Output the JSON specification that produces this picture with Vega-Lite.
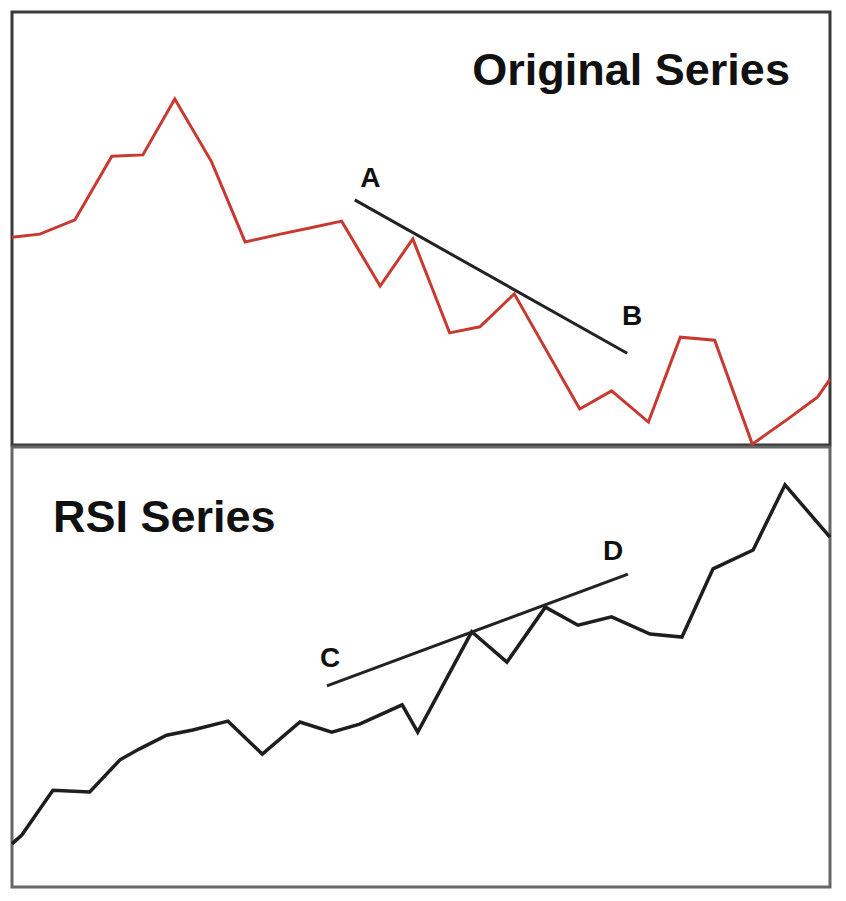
{
  "$schema": "https://vega.github.io/schema/vega-lite/v6.json",
  "background": "white",
  "padding": {"left": 3, "top": 10, "right": 21, "bottom": 12},
  "spacing": 2,
  "bounds": "flush",
  "config": {
    "font": "Liberation Sans",
    "view": {"stroke": "#555", "strokeWidth": 3}
  },
  "datasets": {
    "price": [
      {"t": 0, "price": 48.0},
      {"t": 3.4, "price": 48.7},
      {"t": 7.7, "price": 52.0},
      {"t": 12.2, "price": 66.7},
      {"t": 16.0, "price": 67.0},
      {"t": 19.9, "price": 79.9},
      {"t": 24.4, "price": 65.4},
      {"t": 28.5, "price": 46.9},
      {"t": 32.8, "price": 48.7},
      {"t": 36.4, "price": 50.1},
      {"t": 40.3, "price": 51.7},
      {"t": 45.0, "price": 36.7},
      {"t": 49.0, "price": 47.6},
      {"t": 53.5, "price": 25.9},
      {"t": 57.2, "price": 27.3},
      {"t": 61.4, "price": 34.9},
      {"t": 69.4, "price": 8.3},
      {"t": 73.3, "price": 12.5},
      {"t": 77.8, "price": 5.3},
      {"t": 81.7, "price": 24.9},
      {"t": 85.9, "price": 24.2},
      {"t": 90.5, "price": 0.2},
      {"t": 94.7, "price": 5.8},
      {"t": 98.5, "price": 11.1},
      {"t": 100, "price": 15.2}
    ],
    "priceTrend": [
      {"t": 41.9, "price": 56.6},
      {"t": 75.2, "price": 21.2}
    ],
    "priceLabels": [
      {"t": 43.8, "price": 61.4, "label": "A"},
      {"t": 75.8, "price": 29.6, "label": "B"}
    ],
    "rsi": [
      {"t": 0, "rsi": 9.8},
      {"t": 1.2, "rsi": 11.8},
      {"t": 5.0, "rsi": 22.0},
      {"t": 9.5, "rsi": 21.6},
      {"t": 13.2, "rsi": 28.9},
      {"t": 15.6, "rsi": 31.4},
      {"t": 18.9, "rsi": 34.5},
      {"t": 22.1, "rsi": 35.7},
      {"t": 26.4, "rsi": 37.7},
      {"t": 30.6, "rsi": 30.2},
      {"t": 35.2, "rsi": 37.5},
      {"t": 39.1, "rsi": 35.2},
      {"t": 42.5, "rsi": 37.0},
      {"t": 47.7, "rsi": 41.4},
      {"t": 49.6, "rsi": 35.2},
      {"t": 56.2, "rsi": 58.0},
      {"t": 60.5, "rsi": 51.1},
      {"t": 65.2, "rsi": 63.6},
      {"t": 69.2, "rsi": 59.5},
      {"t": 73.3, "rsi": 61.4},
      {"t": 78.0, "rsi": 57.5},
      {"t": 81.9, "rsi": 56.8},
      {"t": 85.7, "rsi": 72.3},
      {"t": 90.6, "rsi": 76.6},
      {"t": 94.5, "rsi": 91.4},
      {"t": 100, "rsi": 79.5}
    ],
    "rsiTrend": [
      {"t": 38.5, "rsi": 45.7},
      {"t": 75.3, "rsi": 71.1}
    ],
    "rsiLabels": [
      {"t": 38.9, "rsi": 51.8, "label": "C"},
      {"t": 73.5, "rsi": 76.1, "label": "D"}
    ],
    "panelTitles": [
      {"panel": "price", "t": 95.1, "value": 83.1, "title": "Original Series"},
      {"panel": "rsi", "t": 5.0, "value": 80.7, "title": "RSI Series"}
    ]
  },
  "vconcat": [
    {
      "width": 818,
      "height": 433,
      "view": {"stroke": "#3a3a3a", "strokeWidth": 3},
      "layer": [
        {
          "data": {"name": "price"},
          "mark": {"type": "line", "color": "#c8392f", "strokeWidth": 3, "strokeJoin": "miter"},
          "encoding": {
            "x": {"field": "t", "type": "quantitative", "scale": {"domain": [0, 100]}, "axis": null},
            "y": {"field": "price", "type": "quantitative", "scale": {"domain": [0, 100]}, "axis": null}
          }
        },
        {
          "data": {"name": "priceTrend"},
          "mark": {"type": "line", "color": "#222", "strokeWidth": 3},
          "encoding": {
            "x": {"field": "t", "type": "quantitative"},
            "y": {"field": "price", "type": "quantitative"}
          }
        },
        {
          "data": {"name": "priceLabels"},
          "mark": {"type": "text", "fontSize": 28, "fontWeight": "bold", "color": "#111", "align": "center", "baseline": "middle"},
          "encoding": {
            "x": {"field": "t", "type": "quantitative"},
            "y": {"field": "price", "type": "quantitative"},
            "text": {"field": "label"}
          }
        },
        {
          "data": {"name": "panelTitles"},
          "transform": [{"filter": "datum.panel === 'price'"}],
          "mark": {"type": "text", "fontSize": 45, "fontWeight": "bold", "color": "#111", "align": "right", "baseline": "alphabetic"},
          "encoding": {
            "x": {"field": "t", "type": "quantitative"},
            "y": {"field": "value", "type": "quantitative"},
            "text": {"field": "title"}
          }
        }
      ]
    },
    {
      "width": 818,
      "height": 440,
      "view": {"stroke": "#666", "strokeWidth": 3},
      "layer": [
        {
          "data": {"name": "rsi"},
          "mark": {"type": "line", "color": "#1e1e1e", "strokeWidth": 3.5, "strokeJoin": "miter"},
          "encoding": {
            "x": {"field": "t", "type": "quantitative", "scale": {"domain": [0, 100]}, "axis": null},
            "y": {"field": "rsi", "type": "quantitative", "scale": {"domain": [0, 100]}, "axis": null}
          }
        },
        {
          "data": {"name": "rsiTrend"},
          "mark": {"type": "line", "color": "#222", "strokeWidth": 3},
          "encoding": {
            "x": {"field": "t", "type": "quantitative"},
            "y": {"field": "rsi", "type": "quantitative"}
          }
        },
        {
          "data": {"name": "rsiLabels"},
          "mark": {"type": "text", "fontSize": 28, "fontWeight": "bold", "color": "#111", "align": "center", "baseline": "middle"},
          "encoding": {
            "x": {"field": "t", "type": "quantitative"},
            "y": {"field": "rsi", "type": "quantitative"},
            "text": {"field": "label"}
          }
        },
        {
          "data": {"name": "panelTitles"},
          "transform": [{"filter": "datum.panel === 'rsi'"}],
          "mark": {"type": "text", "fontSize": 45, "fontWeight": "bold", "color": "#111", "align": "left", "baseline": "alphabetic"},
          "encoding": {
            "x": {"field": "t", "type": "quantitative"},
            "y": {"field": "value", "type": "quantitative"},
            "text": {"field": "title"}
          }
        }
      ]
    }
  ]
}
